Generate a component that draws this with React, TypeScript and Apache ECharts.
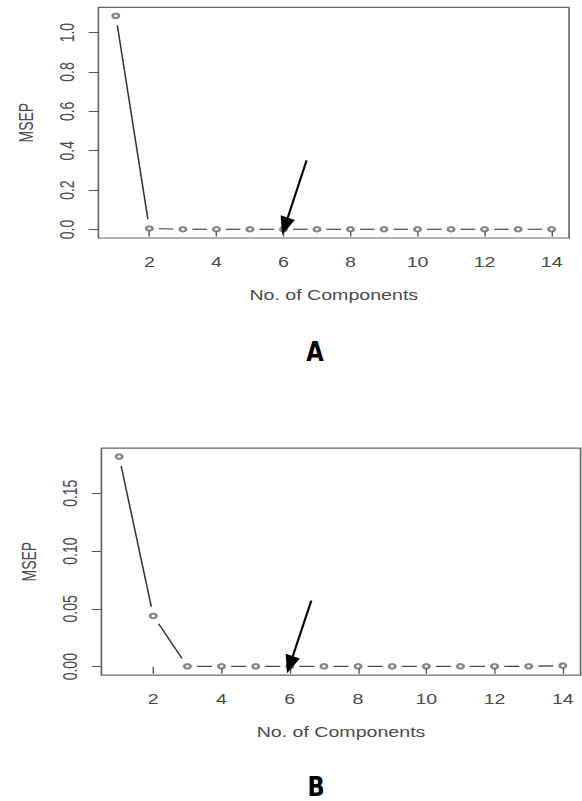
import React, { useEffect, useRef } from "react";
import * as echarts from "echarts";

// ---- data ----
const COMPONENTS = [1, 2, 3, 4, 5, 6, 7, 8, 9, 10, 11, 12, 13, 14];
const MSEP_A = [1.085, 0.005, 0.001, 0.001, 0.001, 0.001, 0.001, 0.001, 0.001, 0.001, 0.001, 0.001, 0.001, 0.001];
const MSEP_B = [0.1817, 0.0439, 0.0003, 0.0003, 0.0003, 0.0003, 0.0003, 0.0003, 0.0003, 0.0003, 0.0003, 0.0003, 0.0003, 0.0009];
const X_TICKS = [2, 4, 6, 8, 10, 12, 14];
const Y_TICKS_A = [0, 0.2, 0.4, 0.6, 0.8, 1.0];
const Y_TICKS_B = [0, 0.05, 0.1, 0.15];
// arrow annotations: [tailX, tailY, tipX, tipY] in data units
const ARROW_A = [6.69, 0.351, 5.96, -0.027];
const ARROW_B = [6.63, 0.0571, 5.92, -0.0057];
const PANEL_LABELS = ["A", "B"];

// the reference figure is horizontally stretched
const S = 1.4;
const W = 582 / S;
const H = 801;

const TEXT = "#4a4a4a";
const FONT = "'Liberation Sans', Arial, sans-serif";

function extend(lo: number, hi: number) {
  const d = (hi - lo) * 0.04;
  return [lo - d, hi + d];
}

function segments(xs: number[], ys: number[]) {
  return xs.slice(0, -1).map((x, i) => [x, ys[i], xs[i + 1], ys[i + 1]]);
}

const segRender = (params: any, api: any) => {
  const p0 = api.coord([api.value(0), api.value(1)]);
  const p1 = api.coord([api.value(2), api.value(3)]);
  const dx = p1[0] - p0[0];
  const dy = p1[1] - p0[1];
  const lenReal = Math.hypot(dx * S, dy);
  const gap = 9.5;
  if (lenReal <= 2 * gap) return null;
  const t = gap / lenReal;
  return {
    type: "line",
    shape: {
      x1: p0[0] + dx * t,
      y1: p0[1] + dy * t,
      x2: p1[0] - dx * t,
      y2: p1[1] - dy * t,
    },
    style: { stroke: "#333", lineWidth: 1.1 },
  };
};

const arrowRender = (params: any, api: any) => {
  const a = api.coord([api.value(0), api.value(1)]);
  const b = api.coord([api.value(2), api.value(3)]);
  const ax = a[0] * S, ay = a[1];
  const bx = b[0] * S, by = b[1];
  const len = Math.hypot(bx - ax, by - ay);
  const ux = (bx - ax) / len, uy = (by - ay) / len;
  const hl = 18, hw = 7.5;
  const baseX = bx - ux * hl, baseY = by - uy * hl;
  const nx = -uy, ny = ux;
  return {
    type: "group",
    children: [
      {
        type: "line",
        shape: { x1: ax / S, y1: ay, x2: (baseX + ux * 2) / S, y2: baseY + uy * 2 },
        style: { stroke: "#000", lineWidth: 1.6 },
      },
      {
        type: "polygon",
        shape: {
          points: [
            [bx / S, by],
            [(baseX + nx * hw) / S, baseY + ny * hw],
            [(baseX - nx * hw) / S, baseY - ny * hw],
          ],
        },
        style: { fill: "#000" },
      },
    ],
  };
};

function makeXAxis(gridIndex: number) {
  const [mn, mx] = extend(Math.min(...COMPONENTS), Math.max(...COMPONENTS));
  return {
    type: "value",
    gridIndex,
    min: mn,
    max: mx,
    axisLine: { show: false },
    splitLine: { show: false },
    axisTick: { show: true, length: 7, customValues: X_TICKS, lineStyle: { color: "#555", width: 1 } },
    axisLabel: { customValues: X_TICKS, margin: 17, fontSize: 14, color: TEXT, fontFamily: FONT },
    name: "No. of Components",
    nameLocation: "middle",
    nameGap: 50,
    nameTextStyle: { fontSize: 14, color: TEXT, fontFamily: FONT },
  };
}

function makeYAxis(gridIndex: number, ys: number[], ticks: number[], digits: number) {
  const [mn, mx] = extend(Math.min(0, ...ys), Math.max(...ys));
  return {
    type: "value",
    gridIndex,
    min: mn,
    max: mx,
    axisLine: { show: false },
    splitLine: { show: false },
    axisTick: { show: true, length: 7, customValues: ticks, lineStyle: { color: "#555", width: 1 } },
    axisLabel: {
      customValues: ticks,
      rotate: 90,
      margin: 15,
      fontSize: 14,
      color: TEXT,
      fontFamily: FONT,
      formatter: (v: number) => v.toFixed(digits),
    },
    name: "MSEP",
    nameLocation: "middle",
    nameRotate: 90,
    nameGap: 44,
    nameTextStyle: { fontSize: 14, color: TEXT, fontFamily: FONT },
  };
}

export default function App() {
  const ref = useRef<HTMLDivElement>(null);
  useEffect(() => {
    if (!ref.current) return;
    const chart = echarts.init(ref.current, undefined, { renderer: "svg" });
    const points = (ys: number[]) => COMPONENTS.map((x, i) => [x, ys[i]]);
    chart.setOption({
      animation: false,
      backgroundColor: "#fff",
      grid: [
        { left: 98.4 / S, top: 7.3, width: (569.1 - 98.4) / S, height: 230.7, show: true, borderColor: "#666", borderWidth: 1.2 },
        { left: 101.4 / S, top: 448.2, width: (580.6 - 101.4) / S, height: 226.9, show: true, borderColor: "#666", borderWidth: 1.2 },
      ],
      xAxis: [makeXAxis(0), makeXAxis(1)],
      yAxis: [makeYAxis(0, MSEP_A, Y_TICKS_A, 1), makeYAxis(1, MSEP_B, Y_TICKS_B, 2)],
      graphic: PANEL_LABELS.map((t, i) => ({
        type: "text",
        x: (i === 0 ? 315 : 316) / S,
        y: i === 0 ? 351.5 : 787,
        scaleX: 0.62,
        style: {
          text: t,
          fill: "#000",
          font: "bold 26px 'DejaVu Sans', sans-serif",
          lineHeight: 22,
          textAlign: "center",
          textVerticalAlign: "middle",
        },
      })),
      series: [
        {
          type: "custom", xAxisIndex: 0, yAxisIndex: 0, silent: true, clip: false,
          data: segments(COMPONENTS, MSEP_A), encode: { x: [0, 2], y: [1, 3] }, renderItem: segRender,
        },
        {
          type: "custom", xAxisIndex: 1, yAxisIndex: 1, silent: true, clip: false,
          data: segments(COMPONENTS, MSEP_B), encode: { x: [0, 2], y: [1, 3] }, renderItem: segRender,
        },
        {
          type: "scatter", xAxisIndex: 0, yAxisIndex: 0, silent: true, z: 3,
          symbol: "emptyCircle", symbolSize: 4.5, data: points(MSEP_A),
          itemStyle: { color: "#666", borderWidth: 0.9 },
        },
        {
          type: "scatter", xAxisIndex: 1, yAxisIndex: 1, silent: true, z: 3,
          symbol: "emptyCircle", symbolSize: 4.5, data: points(MSEP_B),
          itemStyle: { color: "#666", borderWidth: 0.9 },
        },
        {
          type: "custom", xAxisIndex: 0, yAxisIndex: 0, silent: true, clip: false, z: 5,
          data: [ARROW_A], encode: { x: [0, 2], y: [1, 3] }, renderItem: arrowRender,
        },
        {
          type: "custom", xAxisIndex: 1, yAxisIndex: 1, silent: true, clip: false, z: 5,
          data: [ARROW_B], encode: { x: [0, 2], y: [1, 3] }, renderItem: arrowRender,
        },
      ],
    });
    return () => chart.dispose();
  }, []);
  return (
    <div
      ref={ref}
      style={{
        position: "absolute",
        left: 0,
        top: 0,
        width: W,
        height: H,
        transform: `scaleX(${S})`,
        transformOrigin: "0 0",
        background: "#fff",
      }}
    />
  );
}
